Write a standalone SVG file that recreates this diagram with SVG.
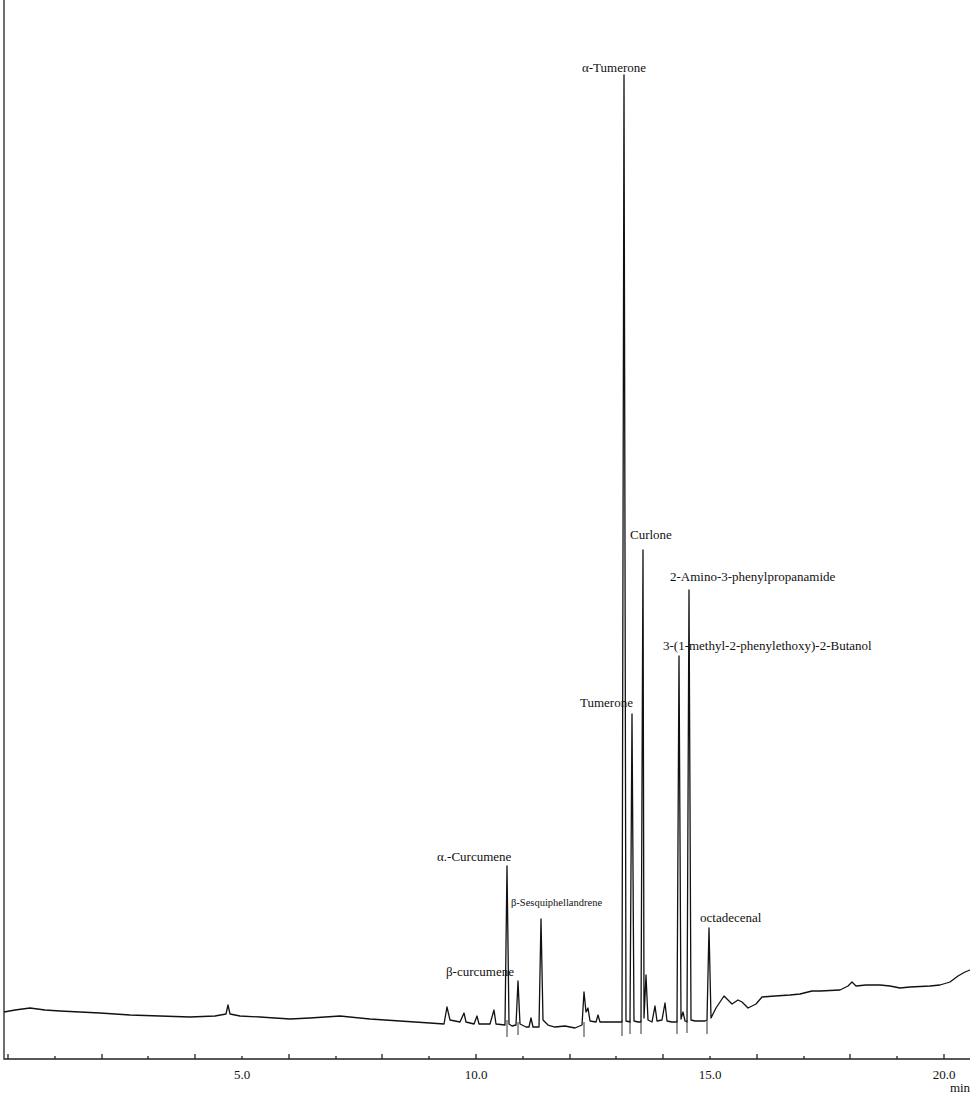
<svg xmlns="http://www.w3.org/2000/svg" width="975" height="1095" viewBox="0 0 975 1095">
<style>
.t{font-family:"Liberation Serif",serif;font-size:13px;fill:#111}
.s{font-size:10.5px}
.ax{stroke:#222;stroke-width:1.3;fill:none}
.tr{stroke:#111;stroke-width:1.3;fill:none;stroke-linejoin:round}
.mk{stroke:#333;stroke-width:1}
</style>
<rect width="975" height="1095" fill="#fff"/>
<g id="axes">
<path class="ax" d="M4,0 V1059 H970"/>
<path class="ax" d="M8,1059v-5 M55,1059v-3 M102,1059v-5 M148,1059v-3 M195,1059v-5 M242,1059v-3 M289,1059v-5 M336,1059v-3 M382,1059v-5 M429,1059v-3 M476,1059v-5 M523,1059v-3 M570,1059v-5 M616,1059v-3 M663,1059v-5 M710,1059v-3 M757,1059v-5 M804,1059v-3 M850,1059v-5 M897,1059v-3 M944,1059v-5"/>
<text class="t" x="242" y="1079" text-anchor="middle">5.0</text>
<text class="t" x="476" y="1079" text-anchor="middle">10.0</text>
<text class="t" x="710" y="1079" text-anchor="middle">15.0</text>
<text class="t" x="944" y="1079" text-anchor="middle">20.0</text>
<text class="t" x="960" y="1092" text-anchor="middle" font-size="11">min</text>
</g>
<g id="trace">
<path class="tr" d="M4,1012 L15,1010 30,1008 45,1010 60,1011 80,1012 100,1013 130,1015 160,1016 190,1017 215,1016 226,1014 228,1005 230,1014 240,1016 260,1017 290,1019 310,1018 340,1016 370,1019 400,1021 430,1023 444,1024 447,1007 450,1020 460,1022 464,1013 466,1022 474,1024 477,1016 479,1024 490,1024 494,1010 496,1024 505,1025 507,866 509,1024 512,1026 516,1025 518,981 520,1024 526,1027 529,1027 531,1018 533,1027 539,1027 541,919 543,1020 548,1025 555,1027 565,1026 575,1028 582,1025 584,992 586,1012 588,1008 590,1021 596,1022 598,1015 600,1022 610,1022 620,1022 622,1022 624,75 626,1021 630,1022 632,714 634,1021 638,1022 641,1022 643,550 644,1018 646,975 648,1020 652,1022 655,1006 657,1021 662,1020 665,1003 667,1021 672,1022 677,1022 679,656 681,1019 683,1012 685,1021 687,1022 689,590 691,1020 695,1021 705,1021 707,1020 709,928 711,1018 716,1008 720,1002 724,996 728,1000 732,1004 738,1000 742,1002 748,1008 756,1004 762,997 775,996 790,995 800,994 812,991 820,991 840,990 848,986 852,982 856,986 866,985 880,985 890,986 900,988 910,987 930,986 940,985 950,982 958,976 965,972 970,970"/>
</g>
<g id="markers">
<path class="mk" d="M507,1020v17 M518,1022v13 M584,1022v15 M622,1020v16 M630,1020v14 M641,1020v14 M677,1020v14 M687,1020v13 M707,1020v14"/>
</g>
<g id="labels">
<text class="t" x="614" y="72" text-anchor="middle">α-Tumerone</text>
<text class="t" x="630" y="539">Curlone</text>
<text class="t" x="670" y="581">2-Amino-3-phenylpropanamide</text>
<text class="t" x="663" y="650">3-(1-methyl-2-phenylethoxy)-2-Butanol</text>
<text class="t" x="580" y="707">Tumerone</text>
<text class="t" x="437" y="861">α.-Curcumene</text>
<text class="t s" x="511" y="906">β-Sesquiphellandrene</text>
<text class="t" x="446" y="976">β-curcumene</text>
<text class="t" x="700" y="922">octadecenal</text>
</g>
</svg>
